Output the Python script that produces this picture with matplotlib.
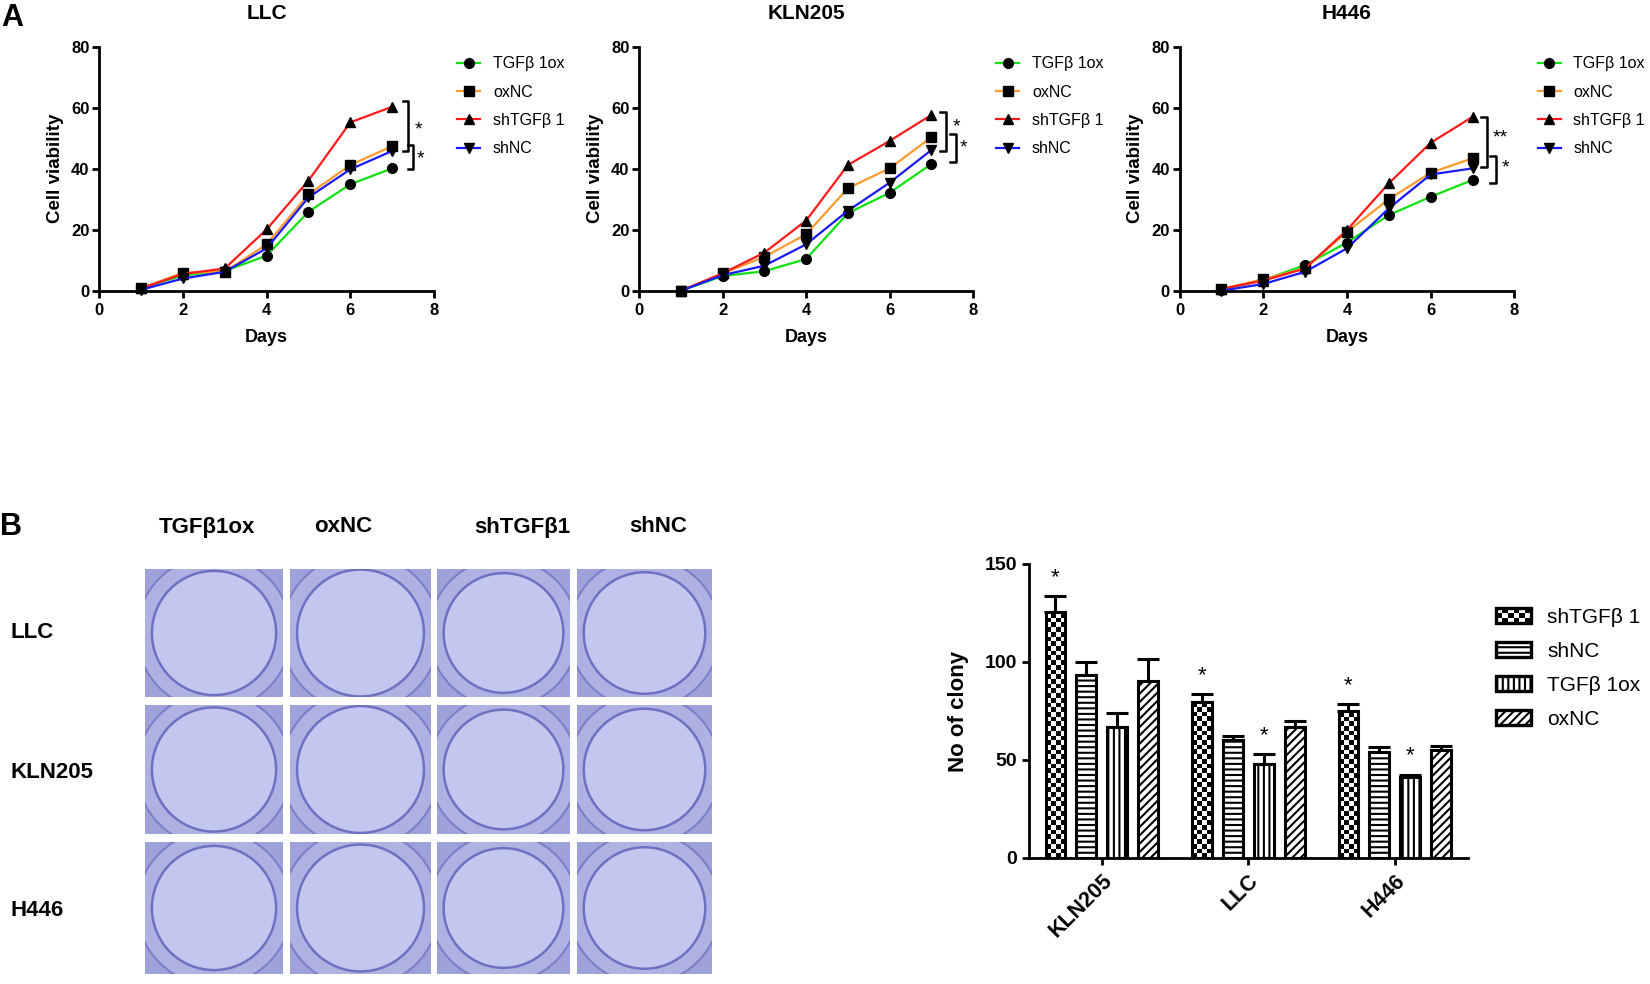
import numpy as np
import matplotlib
matplotlib.use("Agg")
import matplotlib.pyplot as plt
from matplotlib.patches import Rectangle, Ellipse, Patch
from matplotlib.legend_handler import HandlerBase

plt.rcParams['font.family'] = ['Liberation Sans', 'DejaVu Sans']
plt.rcParams['hatch.linewidth'] = 1.5

W, H = 1650, 984

# ---- дані: панель A (життєздатність клітин)
days = [1, 2, 3, 4, 5, 6, 7]
series_names = ['TGFβ 1ox', 'oxNC', 'shTGFβ 1', 'shNC']
series_colors = ['#11e011', '#ff9a2e', '#ff1a1a', '#1a1aff']
series_markers = ['o', 's', '^', 'v']

llc_tgf_ox = [0.8, 5.0, 6.5, 11.5, 25.9, 34.9, 40.1]
llc_oxnc = [0.8, 5.9, 6.2, 15.2, 31.6, 41.2, 47.4]
llc_shtgf = [0.8, 5.5, 7.3, 20.1, 36.1, 55.2, 60.3]
llc_shnc = [0.3, 4.0, 6.2, 13.9, 30.6, 39.8, 45.8]

kln_tgf_ox = [0.0, 4.8, 6.4, 10.4, 25.4, 32.1, 41.5]
kln_oxnc = [0.0, 5.7, 11.1, 18.5, 33.6, 40.1, 50.3]
kln_shtgf = [0.0, 5.7, 12.5, 23.0, 41.2, 49.1, 57.6]
kln_shnc = [0.0, 5.1, 8.2, 15.2, 26.2, 35.4, 46.1]

h446_tgf_ox = [0.3, 3.5, 8.4, 15.8, 24.8, 30.8, 36.3]
h446_oxnc = [0.5, 3.8, 7.3, 19.3, 30.0, 38.7, 43.4]
h446_shtgf = [0.6, 3.3, 7.3, 19.9, 35.2, 48.5, 57.0]
h446_shnc = [0.0, 2.2, 6.2, 13.9, 27.0, 38.1, 40.1]

# дужки значущості: (x, верх, низ, мітка, x мітки, y мітки)
llc_sig = [(7.38, 62.3, 45.9, '*', 7.62, 52.7), (7.50, 47.8, 39.9, '*', 7.68, 43.2)]
kln_sig = [(7.35, 58.7, 45.9, '*', 7.61, 53.8), (7.59, 51.3, 42.1, '*', 7.76, 46.7)]
h446_sig = [(7.34, 56.9, 40.7, '**', 7.66, 50.0), (7.55, 44.3, 35.4, '*', 7.79, 40.1)]

# ---- дані: панель B (кількість колоній)
cell_lines = ['KLN205', 'LLC', 'H446']
bar_names = ['shTGFβ 1', 'shNC', 'TGFβ 1ox', 'oxNC']
clony_shtgf = [125.3, 79.8, 74.8]
clony_shnc = [93.2, 60.2, 54.2]
clony_tgf_ox = [66.6, 48.1, 41.1]
clony_oxnc = [90.5, 66.6, 55.1]
err_shtgf = [8.5, 3.7, 3.6]
err_shnc = [7.0, 2.0, 2.6]
err_tgf_ox = [7.2, 5.2, 1.5]
err_oxnc = [11.1, 3.5, 2.0]
bar_hatches = [None, '---', '|||', '////']
# (індекс серії, індекс лінії) з зірочкою
bar_stars = [(0, 0), (0, 1), (0, 2), (2, 1), (2, 2)]

photo_cols = ['TGFβ1ox', 'oxNC', 'shTGFβ1', 'shNC']
photo_rows = ['LLC', 'KLN205', 'H446']


def px_axes(fig, l, t, r, b):
    return fig.add_axes([l / W, 1 - b / H, (r - l) / W, (b - t) / H])


def style_axes(ax, tick_size):
    for s in ['top', 'right']:
        ax.spines[s].set_visible(False)
    for s in ['left', 'bottom']:
        ax.spines[s].set_linewidth(2.0)
    ax.tick_params(width=2.0, length=5, labelsize=tick_size)
    for lab in ax.get_xticklabels() + ax.get_yticklabels():
        lab.set_fontweight('bold')


def line_panel(ax, title, data, sig):
    for vals, name, col, mk in zip(data, series_names, series_colors, series_markers):
        ax.plot(days, vals, color=col, lw=1.6, marker=mk, markersize=7,
                markerfacecolor='black', markeredgecolor='black', label=name, clip_on=False)
    ax.set_xlim(0, 8)
    ax.set_ylim(0, 80)
    ax.set_xticks([0, 2, 4, 6, 8])
    ax.set_yticks([0, 20, 40, 60, 80])
    style_axes(ax, 12)
    ax.tick_params(axis='x', pad=4)
    ax.tick_params(axis='y', pad=2)
    ax.set_xlabel('Days', fontsize=13, fontweight='bold')
    ax.set_ylabel('Cell viability', fontsize=13.5, fontweight='bold')
    ax.xaxis.set_label_coords(0.5, -0.155)
    ax.yaxis.set_label_coords(-0.105, 0.5)
    ax.text(0.5, 1.135, title, transform=ax.transAxes, ha='center', va='center',
            fontsize=15, fontweight='bold')
    for x, yt, yb, lab, lx, ly in sig:
        ax.plot([x - 0.13, x, x, x - 0.13], [yt, yt, yb, yb], color='black', lw=1.8,
                clip_on=False)
        ax.text(lx, ly, lab, ha='center', va='center', fontsize=14)
    ax.legend(loc='upper left', bbox_to_anchor=(1.069, 0.96), frameon=False,
              borderpad=0, borderaxespad=0, handlelength=1.45, handletextpad=0.8,
              labelspacing=0.83, fontsize=11.5)


class CheckerHandler(HandlerBase):
    def create_artists(self, legend, orig_handle, xdescent, ydescent, width, height,
                       fontsize, trans):
        arts = []
        x0, y0 = -xdescent, -ydescent
        nx, ny = 6, 3
        cw, ch = width / nx, height / ny
        for i in range(nx):
            for j in range(ny):
                c = 'white' if (i + j) % 2 == 0 else 'black'
                arts.append(Rectangle((x0 + i * cw, y0 + j * ch), cw, ch, facecolor=c,
                                      edgecolor='none', transform=trans))
        arts.append(Rectangle((x0, y0), width, height, facecolor='none',
                              edgecolor='black', lw=2.4, transform=trans))
        return arts


fig = plt.figure(figsize=(16.5, 9.84), dpi=100)

# ---- панель A
ax1 = px_axes(fig, 99.3, 46.7, 434.0, 290.7)
line_panel(ax1, 'LLC', [llc_tgf_ox, llc_oxnc, llc_shtgf, llc_shnc], llc_sig)
ax2 = px_axes(fig, 639.3, 46.7, 973.0, 290.7)
line_panel(ax2, 'KLN205', [kln_tgf_ox, kln_oxnc, kln_shtgf, kln_shnc], kln_sig)
ax3 = px_axes(fig, 1179.6, 46.7, 1514.4, 290.7)
line_panel(ax3, 'H446', [h446_tgf_ox, h446_oxnc, h446_shtgf, h446_shnc], h446_sig)

fig.text(12 / W, 1 - 18 / H, 'A', ha='center', va='center', fontsize=22, fontweight='bold')
fig.text(11 / W, 1 - 527 / H, 'B', ha='center', va='center', fontsize=22, fontweight='bold')

# ---- панель B: фото лунок (схематично)
col_boxes = [(145, 283), (290, 431), (437, 570), (577, 712)]
row_boxes = [(569, 697), (705, 834), (842, 974)]
header_x = [207, 343, 522, 658]
row_label_y = [633, 773, 910]
for name, hx in zip(photo_cols, header_x):
    fig.text(hx / W, 1 - 527 / H, name, ha='center', va='center', fontsize=16,
             fontweight='bold')
for name, ry in zip(photo_rows, row_label_y):
    fig.text(11 / W, 1 - ry / H, name, ha='left', va='center', fontsize=16,
             fontweight='bold')
for (t, b) in row_boxes:
    for (l, r) in col_boxes:
        pa = px_axes(fig, l, t, r, b)
        pa.set_xlim(0, 1)
        pa.set_ylim(0, 1)
        pa.axis('off')
        wpx, hpx = r - l, b - t
        pa.add_patch(Rectangle((0, 0), 1, 1, facecolor='#9ea2d9', edgecolor='none'))
        ro = 0.56 * wpx
        pa.add_patch(Ellipse((0.5, 0.5), 2 * ro / wpx, 2 * ro / hpx, facecolor='#aeb2e3',
                             edgecolor='#7a7fc8', lw=1.5))
        ri = 0.45 * wpx
        pa.add_patch(Ellipse((0.5, 0.5), 2 * ri / wpx, 2 * ri / hpx, facecolor='#c3c6ee',
                             edgecolor='#6d72c0', lw=1.8))

# ---- панель B: стовпчики
axb = px_axes(fig, 1028.6, 564, 1468, 858)
vals_all = [clony_shtgf, clony_shnc, clony_tgf_ox, clony_oxnc]
errs_all = [err_shtgf, err_shnc, err_tgf_ox, err_oxnc]
xg = np.arange(len(cell_lines))
pitch, bw = 0.211, 0.135
cell_h = 2.4
for k, (vals, errs, hatch) in enumerate(zip(vals_all, errs_all, bar_hatches)):
    xs = xg + (k - 1.5) * pitch
    axb.errorbar(xs, vals, yerr=[np.zeros(len(errs)), errs], fmt='none', ecolor='black',
                 elinewidth=2.2, capsize=8, capthick=2.2, zorder=2)
    bars = axb.bar(xs, vals, width=bw, facecolor='white' if hatch else 'none',
                   edgecolor='black', linewidth=2.2, hatch=hatch, zorder=3)
    if hatch is None:
        # шахова текстура для shTGFβ 1
        for patch, v in zip(bars, vals):
            x0 = patch.get_x()
            nrow = int(np.ceil(v / cell_h))
            board = np.add.outer(np.arange(nrow), np.arange(4)) % 2
            im = axb.imshow(board, extent=(x0, x0 + bw, 0, nrow * cell_h), origin='lower',
                            cmap='gray', interpolation='nearest', aspect='auto', zorder=2.5)
            im.set_clip_path(patch)
for k, i in bar_stars:
    x = xg[i] + (k - 1.5) * pitch
    axb.text(x, vals_all[k][i] + errs_all[k][i] + 4, '*', ha='center', va='bottom',
             fontsize=16)
axb.set_xlim(-0.5, 2.5)
axb.set_ylim(0, 150)
axb.set_yticks([0, 50, 100, 150])
axb.set_xticks(xg)
axb.set_xticklabels(cell_lines)
style_axes(axb, 14)
axb.tick_params(axis='x', labelsize=15.5, pad=4)
for lab in axb.get_xticklabels():
    lab.set_rotation(45)
    lab.set_ha('right')
    lab.set_rotation_mode('anchor')
axb.set_ylabel('No of clony', fontsize=16, fontweight='bold')
axb.yaxis.set_label_coords(-0.136, 0.5)

handles = [Patch(facecolor='white', edgecolor='black', lw=2.4, hatch=h) for h in bar_hatches]
handles[0] = Rectangle((0, 0), 1, 1)
fig.legend(handles, bar_names, loc='upper left', bbox_to_anchor=(1496 / W, 1 - 608 / H),
           frameon=False, borderpad=0, borderaxespad=0, handlelength=1.68,
           handleheight=0.72, handletextpad=0.77, labelspacing=0.72, fontsize=15,
           handler_map={Rectangle: CheckerHandler()})

plt.savefig('out.png', dpi=100)
